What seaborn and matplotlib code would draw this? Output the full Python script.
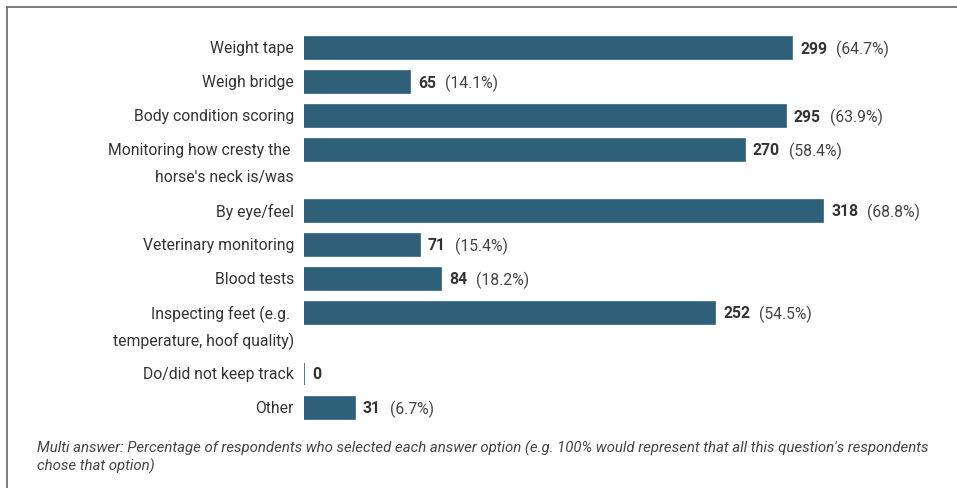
import matplotlib.pyplot as plt
import matplotlib.transforms as mtransforms
from matplotlib.lines import Line2D
import seaborn as sns
import pandas as pd

# survey answers (multi answer, 462 respondents)
options = [
    "Weight tape",
    "Weigh bridge",
    "Body condition scoring",
    "Monitoring how cresty the \nhorse's neck is/was",
    "By eye/feel",
    "Veterinary monitoring",
    "Blood tests",
    "Inspecting feet (e.g. \ntemperature, hoof quality)",
    "Do/did not keep track",
    "Other",
]
counts = [299, 65, 295, 270, 318, 71, 84, 252, 0, 31]
percents = ["64.7%", "14.1%", "63.9%", "58.4%", "68.8%", "15.4%", "18.2%", "54.5%", None, "6.7%"]

footnote = ("Multi answer: Percentage of respondents who selected each answer option "
            "(e.g. 100% would represent that all this question's respondents\nchose that option)")

bar_color = "#2e6079"
text_color = "#333333"
fs = 11.3
line_gap = 27 / 34  # extra room for a second label line, in row units

sns.set_style("white")
plt.rcParams["font.family"] = ["Roboto", "DejaVu Sans"]

# row positions: two-line labels push the next rows down
pos = []
y = 0.0
for lab in options:
    pos.append(y)
    y += 1 + line_gap * (lab.count("\n"))

df = pd.DataFrame({"option": options, "count": counts, "pos": pos})

W, H = 957, 489
fig = plt.figure(figsize=(W / 100, H / 100), dpi=100)
ax = fig.add_axes([304 / W, 0, 653 / W, 1])

sns.barplot(data=df, x="count", y="pos", orient="h", native_scale=True,
            color=bar_color, saturation=1, width=22 / 34,
            edgecolor=bar_color, linewidth=1.2, ax=ax)

ax.set_xlim(0, 400)
ax.set_ylim((H - 49) / 34, -49 / 34)
ax.axis("off")

# category labels, one text per line so the first line sits on the bar
lab_tr = ax.transData + mtransforms.ScaledTranslation(-10 / 100, 0, fig.dpi_scale_trans)
for p, lab in zip(pos, options):
    for i, part in enumerate(lab.split("\n")):
        ax.text(0, p + i * line_gap, part, transform=lab_tr, ha="right", va="center",
                fontsize=fs, color=text_color)

# value labels: bold count, then percentage
val_tr = ax.transData + mtransforms.ScaledTranslation(8 / 100, 0, fig.dpi_scale_trans)
bold_texts = []
for p, c in zip(pos, counts):
    t = ax.text(c, p, str(c), transform=val_tr, ha="left", va="center",
                fontsize=fs, fontweight="bold", color=text_color)
    bold_texts.append(t)

fig.canvas.draw()
renderer = fig.canvas.get_renderer()
for t, p, pc in zip(bold_texts, pos, percents):
    if pc is None:
        continue
    bb = t.get_window_extent(renderer)
    x_disp = bb.x1 + 9
    x_data = ax.transData.inverted().transform((x_disp, 0))[0]
    ax.text(x_data, p, "(" + pc + ")", ha="left", va="center",
            fontsize=fs, color="#444444")

fig.text(37 / W, 1 - 441 / H, footnote, ha="left", va="top", fontsize=10.8,
         style="italic", color="#444444", linespacing=1.2)

# thin frame on the left and top
fig.add_artist(Line2D([7 / W, 7 / W], [0, 1 - 8 / H], color="#666666", linewidth=1.2))
fig.add_artist(Line2D([7 / W, 1], [1 - 8 / H, 1 - 8 / H], color="#666666", linewidth=1.2))

fig.savefig("out.png", dpi=100, facecolor="white")
